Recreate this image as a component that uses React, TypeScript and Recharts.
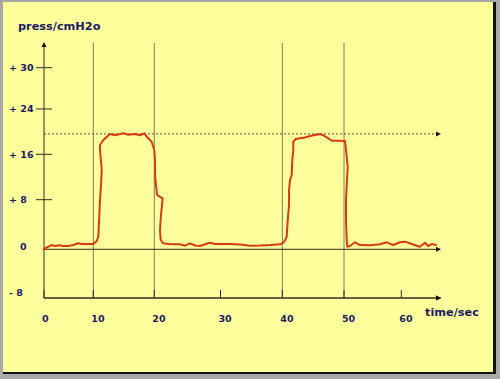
import React from 'react';
import { LineChart, Line, XAxis, YAxis, ReferenceLine } from 'recharts';

// ---- data ----
const timeSec = [
  0, 0.87, 1.56, 2.23, 3.1, 3.91, 4.93, 5.94, 6.96, 7.65, 8.32, 10.0,
  10.56, 10.82, 10.93, 11.1, 11.21, 11.26, 11.38, 11.1, 11.1, 11.64, 12.74, 13.56,
  14.38, 14.92, 15.74, 16.84, 17.66, 18.36, 18.75, 19.57, 20.0, 20.11, 20.11, 20.26,
  20.41, 21.27, 21.01, 20.86, 20.97, 21.36, 22.37, 23.88, 24.64, 25.39, 26.15, 26.9,
  27.66, 28.41, 29.17, 29.92, 31.54, 33.16, 34.77, 36.39, 38.01, 39.63, 40.16, 40.44,
  40.71, 40.88, 41.09, 41.09, 41.25, 41.52, 41.62, 41.78, 41.78, 42.17, 42.87, 43.68,
  44.49, 45.3, 46.11, 46.65, 47.2, 48.01, 49.08, 50.17, 50.35, 50.64, 50.52, 50.35,
  50.35, 50.47, 50.58, 51.05, 51.92, 52.79, 54.54, 56.28, 57.45, 58.6, 59.77, 60.65,
  61.83, 63.29, 64.18, 64.76, 65.36, 66.12,
];
const pressure = [
  0.05, 0.42, 0.69, 0.53, 0.65, 0.53, 0.53, 0.69, 0.97, 0.85, 0.85, 0.85,
  1.34, 2.03, 4.24, 7.95, 9.71, 10.59, 13.23, 16.76, 17.64, 18.53, 19.59, 19.36,
  19.59, 19.71, 19.46, 19.59, 19.36, 19.71, 19.11, 18.23, 16.76, 15.0, 12.35, 10.59,
  8.83, 8.25, 5.53, 3.11, 1.5, 0.97, 0.81, 0.81, 0.58, 0.97, 0.61, 0.53,
  0.81, 1.06, 0.85, 0.85, 0.85, 0.77, 0.58, 0.61, 0.69, 0.81, 1.06, 1.42,
  2.03, 4.73, 7.15, 9.71, 11.47, 12.35, 15.0, 16.76, 18.23, 18.7, 18.83, 18.97,
  19.23, 19.41, 19.59, 19.36, 19.0, 18.4, 18.4, 18.35, 16.76, 13.81, 11.47, 7.95,
  4.73, 1.5, 0.42, 0.53, 1.13, 0.69, 0.65, 0.81, 1.13, 0.69, 1.13, 1.23,
  0.85, 0.42, 1.06, 0.53, 0.85, 0.69,
];
const phaseTimes = [10, 20, 40, 50];
const targetPressure = 19.6;

const xTicks = [0, 10, 20, 30, 40, 50, 60];
const xTickLabels = ['0', '10', '20', '30', '40', '50', '60'];
const yTicks = [-8, 0, 8, 16, 24, 30];
const yTickLabels = ['- 8', '0', '+ 8', '+ 16', '+ 24', '+ 30'];

const chartData = timeSec.map((t, i) => ({ t, p: pressure[i] }));

// ---- the hand-drawn axes are not evenly spaced: piecewise-linear scales ----
const xKnots = [0, 10, 20, 30, 40, 50, 60, 67];
const xKnotFracs = [0, 0.1242, 0.2778, 0.4446, 0.6003, 0.7557, 0.9, 1];
const yKnots = [-8, 0, 8, 16, 24, 30, 33.7];
const yKnotFracs = [0, 0.1902, 0.384, 0.5613, 0.7383, 0.8996, 1];

function makePiecewiseScale(knots: number[], fracs: number[]): any {
  let dom: number[] = [knots[0], knots[knots.length - 1]];
  let rng: number[] = [0, 1];
  const frac = (v: number) => {
    const n = knots.length;
    let i = 0;
    if (v >= knots[n - 1]) i = n - 2;
    else if (v > knots[0]) {
      while (i < n - 2 && v > knots[i + 1]) i++;
    }
    const u = (v - knots[i]) / (knots[i + 1] - knots[i]);
    return fracs[i] + u * (fracs[i + 1] - fracs[i]);
  };
  const scale: any = function (v: any) {
    return rng[0] + (rng[1] - rng[0]) * frac(Number(v));
  };
  scale.domain = function (d?: any) {
    if (d === undefined) return dom.slice();
    dom = Array.from(d as number[]).map(Number);
    return scale;
  };
  scale.range = function (r?: any) {
    if (r === undefined) return rng.slice();
    rng = Array.from(r as number[]).map(Number);
    return scale;
  };
  scale.copy = function () {
    const s = makePiecewiseScale(knots, fracs);
    s.domain(dom);
    s.range(rng);
    return s;
  };
  scale.ticks = function () {
    return knots.slice();
  };
  scale.invert = function (px: number) {
    const f = (px - rng[0]) / (rng[1] - rng[0]);
    let i = 0;
    while (i < fracs.length - 2 && f > fracs[i + 1]) i++;
    const u = (f - fracs[i]) / (fracs[i + 1] - fracs[i]);
    return knots[i] + u * (knots[i + 1] - knots[i]);
  };
  scale.nice = function () {
    return scale;
  };
  scale.clamp = function () {
    return scale;
  };
  return scale;
}

const xScale = makePiecewiseScale(xKnots, xKnotFracs);
const yScale = makePiecewiseScale(yKnots, yKnotFracs);

// ---- styles ----
const FONT = '"DejaVu Sans", Verdana, sans-serif';
const TEXT = '#1b1b62';
const AXIS = '#2e2e22';
const PHASE = '#7c7c5a';
const CURVE = '#d63c14';
// the lowest two y labels sit a little above their lines in the original
const yLabelNudge = [-5.5, -2.5, 0, 0, 0, 0];

const YTick = (props: any) => {
  const { x, y, payload } = props;
  const idx = yTicks.indexOf(payload.value);
  const label = yTickLabels[idx];
  const signed = /^[+\-]/.test(label);
  return (
    <g>
      {payload.value > 0 && (
        <line x1={x - 8} x2={x + 8} y1={y} y2={y} stroke={AXIS} strokeWidth={1} />
      )}
      <text
        x={x - (signed ? 35 : 24)}
        y={y + (yLabelNudge[idx] || 0)}
        dy="0.36em"
        textAnchor="start"
        fontFamily={FONT}
        fontWeight="bold"
        fontSize={9.5}
        fill={TEXT}
      >
        {label}
      </text>
    </g>
  );
};

// tick y arrives at the inner end of the (upward) tick line
const XTick = (props: any) => {
  const { x, y, payload } = props;
  const idx = xTicks.indexOf(payload.value);
  return (
    <text
      x={x - 2}
      y={y + 32}
      textAnchor="start"
      fontFamily={FONT}
      fontWeight="bold"
      fontSize={9.5}
      fill={TEXT}
    >
      {xTickLabels[idx]}
    </text>
  );
};

const arrowRight = (stroke: string, dash?: string) => (props: any) => {
  const { x1, y1, x2 } = props;
  const xs = Math.min(x1, x2);
  const xe = Math.max(x1, x2);
  return (
    <g>
      <line x1={xs} y1={y1} x2={xe - 3} y2={y1} stroke={stroke} strokeWidth={1} strokeDasharray={dash} />
      <polygon points={`${xe},${y1} ${xe - 5},${y1 - 2.5} ${xe - 5},${y1 + 2.5}`} fill="#111" />
    </g>
  );
};

const arrowUp = (props: any) => {
  const { x1, y1, y2 } = props;
  const top = Math.min(y1, y2);
  const bottom = Math.max(y1, y2);
  return (
    <g>
      <line x1={x1} y1={bottom} x2={x1} y2={top + 3} stroke={AXIS} strokeWidth={1} />
      <polygon points={`${x1},${top} ${x1 - 2.5},${top + 5} ${x1 + 2.5},${top + 5}`} fill="#111" />
    </g>
  );
};

const plainVertical = (props: any) => {
  const { x1, y1, x2, y2 } = props;
  return <line x1={x1} y1={Math.min(y1, y2) + 1} x2={x2} y2={Math.max(y1, y2)} stroke={PHASE} strokeWidth={1} />;
};

export default function App() {
  return (
    <div style={{ position: 'absolute', left: 0, top: 0, width: 500, height: 379, background: '#a9a9a9', overflow: 'hidden' }}>
      <div
        style={{
          position: 'absolute',
          left: 3,
          top: 2,
          width: 490,
          height: 370,
          background: '#ffff9c',
          borderRight: '3px solid #111',
          borderBottom: '2px solid #111',
        }}
      />
      <div style={{ position: 'absolute', left: 0, top: 0 }}>
        <LineChart width={500} height={379} data={chartData} margin={{ top: 42, right: 59, bottom: 0, left: 0 }}>
          <XAxis
            dataKey="t"
            type="number"
            scale={xScale}
            domain={[0, 67]}
            ticks={xTicks}
            interval={0}
            height={81}
            axisLine={{ stroke: AXIS, strokeWidth: 1 }}
            tickLine={{ stroke: AXIS, strokeWidth: 1 }}
            tickSize={-8}
            tickMargin={0}
            tick={<XTick />}
            label={(p: any) => {
              const vb = p.viewBox;
              const xe = vb.x + vb.width;
              const ya = vb.y;
              return (
                <g>
                  <polygon points={`${xe},${ya} ${xe - 5},${ya - 2.5} ${xe - 5},${ya + 2.5}`} fill="#111" />
                  <text
                    x={xe - 16}
                    y={ya + 17.5}
                    fontFamily={FONT}
                    fontWeight="bold"
                    fontSize={11.3}
                    fill={TEXT}
                  >
                    time/sec
                  </text>
                </g>
              );
            }}
          />
          <YAxis
            type="number"
            scale={yScale}
            domain={[-8, 33.7]}
            ticks={yTicks}
            interval={0}
            width={44}
            axisLine={false}
            tickLine={false}
            tickSize={0}
            tickMargin={0}
            tick={<YTick />}
            label={(p: any) => (
              <text
                x={p.viewBox.x + 18}
                y={p.viewBox.y - 12.5}
                fontFamily={FONT}
                fontWeight="bold"
                fontSize={11.3}
                fill={TEXT}
              >
                press/cmH2o
              </text>
            )}
          />
          {phaseTimes.map((t) => (
            <ReferenceLine key={`ph${t}`} x={t} ifOverflow="visible" shape={plainVertical} />
          ))}
          <ReferenceLine y={targetPressure} ifOverflow="visible" shape={arrowRight('#55553f', '2 2')} />
          <ReferenceLine y={0} ifOverflow="visible" shape={arrowRight(AXIS)} />
          <ReferenceLine
            segment={[{ x: 0, y: -8 }, { x: 67, y: -8 }]}
            ifOverflow="visible"
            shape={arrowRight(AXIS)}
          />
          <ReferenceLine x={0} ifOverflow="visible" shape={arrowUp} />
          <Line
            dataKey="p"
            type="linear"
            stroke={CURVE}
            strokeWidth={2}
            strokeLinejoin="round"
            strokeLinecap="round"
            dot={false}
            activeDot={false}
            isAnimationActive={false}
          />
        </LineChart>
      </div>
    </div>
  );
}
